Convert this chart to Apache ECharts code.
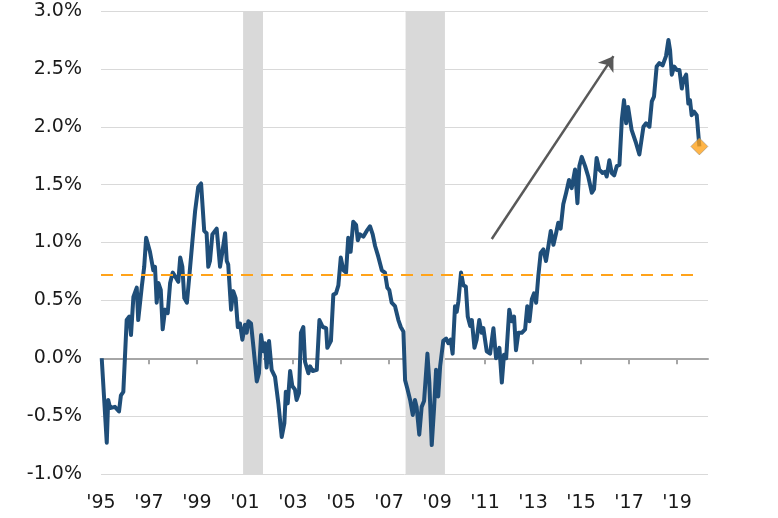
<!DOCTYPE html>
<html>
<head>
<meta charset="utf-8">
<script src="https://cdn.jsdelivr.net/npm/echarts@6/dist/echarts.min.js"></script>
<style>
  html, body { margin: 0; padding: 0; background: #fff; }
  #chart { width: 778px; height: 518px; }
</style>
</head>
<body>
<div id="chart"></div>
<script>
// decimal year of each reading and its value in %
const years = [
    1995.03, 1995.24, 1995.30, 1995.38, 1995.58, 1995.75, 1995.83, 1995.93, 1996.07, 1996.18,
    1996.25, 1996.35, 1996.49, 1996.55, 1996.70, 1996.80, 1996.88, 1997.04, 1997.18, 1997.25,
    1997.32, 1997.39, 1997.49, 1997.57, 1997.67, 1997.78, 1997.88, 1997.99, 1998.08, 1998.22,
    1998.30, 1998.39, 1998.47, 1998.58, 1998.68, 1998.80, 1998.92, 1998.99, 1999.05, 1999.17,
    1999.30, 1999.40, 1999.47, 1999.54, 1999.64, 1999.82, 1999.96, 2000.05, 2000.17, 2000.24,
    2000.30, 2000.42, 2000.51, 2000.61, 2000.70, 2000.79, 2000.89, 2001.00, 2001.07, 2001.14,
    2001.25, 2001.35, 2001.49, 2001.58, 2001.67, 2001.76, 2001.83, 2001.90, 2002.00, 2002.11,
    2002.25, 2002.39, 2002.53, 2002.64, 2002.70, 2002.78, 2002.88, 2002.97, 2003.08, 2003.15,
    2003.25, 2003.33, 2003.43, 2003.50, 2003.64, 2003.71, 2003.82, 2003.99, 2004.10, 2004.24,
    2004.38, 2004.43, 2004.58, 2004.68, 2004.79, 2004.89, 2004.99, 2005.10, 2005.21, 2005.30,
    2005.40, 2005.51, 2005.63, 2005.70, 2005.79, 2005.93, 2006.07, 2006.21, 2006.32, 2006.42,
    2006.55, 2006.70, 2006.83, 2006.93, 2007.01, 2007.11, 2007.25, 2007.39, 2007.49, 2007.60,
    2007.67, 2007.76, 2007.88, 2007.99, 2008.08, 2008.15, 2008.26, 2008.36, 2008.46, 2008.60,
    2008.68, 2008.78, 2008.88, 2008.96, 2009.05, 2009.13, 2009.26, 2009.38, 2009.47, 2009.57,
    2009.65, 2009.75, 2009.82, 2009.89, 2010.00, 2010.10, 2010.20, 2010.28, 2010.38, 2010.45,
    2010.56, 2010.65, 2010.76, 2010.86, 2010.93, 2011.07, 2011.21, 2011.35, 2011.46, 2011.60,
    2011.70, 2011.79, 2011.88, 2012.01, 2012.11, 2012.21, 2012.29, 2012.39, 2012.53, 2012.67,
    2012.76, 2012.85, 2012.95, 2013.04, 2013.13, 2013.22, 2013.32, 2013.43, 2013.54, 2013.64,
    2013.74, 2013.85, 2013.96, 2014.05, 2014.15, 2014.26, 2014.38, 2014.50, 2014.61, 2014.75,
    2014.85, 2014.93, 2015.03, 2015.17, 2015.30, 2015.45, 2015.54, 2015.65, 2015.76, 2015.90,
    2016.00, 2016.07, 2016.18, 2016.28, 2016.38, 2016.49, 2016.60, 2016.70, 2016.79, 2016.88,
    2016.96, 2017.11, 2017.29, 2017.43, 2017.50, 2017.60, 2017.71, 2017.85, 2017.95, 2018.04,
    2018.15, 2018.26, 2018.40, 2018.54, 2018.64, 2018.71, 2018.78, 2018.88, 2018.99, 2019.10,
    2019.20, 2019.26, 2019.38, 2019.47, 2019.54, 2019.61, 2019.71, 2019.82, 2019.93
];
const values = [
    0.00, -0.73, -0.36, -0.43, -0.42, -0.46, -0.32, -0.29, 0.33, 0.36,
    0.20, 0.53, 0.61, 0.33, 0.62, 0.79, 1.04, 0.92, 0.76, 0.79,
    0.48, 0.65, 0.59, 0.25, 0.42, 0.39, 0.65, 0.74, 0.71, 0.66,
    0.87, 0.79, 0.52, 0.48, 0.71, 0.99, 1.27, 1.27, 1.48, 1.51,
    1.10, 1.08, 0.79, 0.84, 1.07, 1.12, 0.79, 0.91, 1.08, 0.84,
    0.81, 0.42, 0.58, 0.52, 0.27, 0.30, 0.16, 0.29, 0.22, 0.32,
    0.30, 0.10, -0.20, -0.13, 0.20, 0.06, 0.13, -0.08, 0.15, -0.10,
    -0.16, -0.39, -0.68, -0.56, -0.29, -0.39, -0.11, -0.24, -0.27, -0.36,
    -0.30, 0.22, 0.27, -0.03, -0.13, -0.07, -0.11, -0.10, 0.33, 0.27,
    0.26, 0.09, 0.15, 0.55, 0.56, 0.63, 0.87, 0.76, 0.74, 1.04,
    0.92, 1.18, 1.15, 1.02, 1.07, 1.05, 1.10, 1.14, 1.07, 0.97,
    0.88, 0.76, 0.74, 0.61, 0.59, 0.48, 0.45, 0.33, 0.27, 0.23,
    -0.19, -0.26, -0.36, -0.49, -0.36, -0.42, -0.66, -0.42, -0.37, 0.04,
    -0.21, -0.75, -0.42, -0.10, -0.33, -0.07, 0.15, 0.17, 0.13, 0.16,
    0.04, 0.45, 0.40, 0.49, 0.74, 0.63, 0.62, 0.36, 0.28, 0.33,
    0.09, 0.16, 0.33, 0.22, 0.26, 0.06, 0.04, 0.26, 0.00, 0.09,
    -0.21, 0.03, 0.00, 0.42, 0.32, 0.36, 0.07, 0.22, 0.22, 0.25,
    0.45, 0.32, 0.51, 0.56, 0.48, 0.71, 0.91, 0.94, 0.84, 0.97,
    1.10, 0.98, 1.08, 1.17, 1.12, 1.33, 1.43, 1.54, 1.47, 1.63,
    1.34, 1.66, 1.74, 1.66, 1.57, 1.43, 1.46, 1.73, 1.63, 1.60,
    1.61, 1.57, 1.71, 1.60, 1.58, 1.66, 1.67, 2.06, 2.23, 2.03,
    2.17, 1.97, 1.86, 1.76, 1.76, 2.00, 2.03, 2.00, 2.22, 2.26,
    2.52, 2.55, 2.53, 2.61, 2.75, 2.66, 2.45, 2.52, 2.49, 2.49,
    2.33, 2.40, 2.45, 2.20, 2.23, 2.10, 2.13, 2.10, 1.83
];
const tickYears = [1997, 1999, 2001, 2003, 2005, 2007, 2009, 2011, 2013, 2015, 2017, 2019];
const labelYears = [1995, 1997, 1999, 2001, 2003, 2005, 2007, 2009, 2011, 2013, 2015, 2017, 2019];
const recessions = [[2000.92, 2001.75], [2007.69, 2009.33]];
const average = 0.72;
const averageSpan = [1995, 2019.8];
const arrowFrom = [2011.28, 1.03];
const arrowTo = [2016.35, 2.61];

const font = 'DejaVu Sans';
const points = years.map((y, i) => [y, values[i]]);
const last = points[points.length - 1];

const chart = echarts.init(document.getElementById('chart'));
chart.setOption({
    animation: false,
    grid: { left: 101, right: 70, top: 11, bottom: 44 },
    xAxis: [
        {
            type: 'value',
            min: 1995,
            max: 2020.29,
            axisLine: { onZero: true, lineStyle: { color: '#A6A6A6', width: 2 } },
            axisTick: { show: true, length: 6, customValues: tickYears, lineStyle: { color: '#A6A6A6', width: 2 } },
            axisLabel: { show: false },
            splitLine: { show: false },
        },
        {
            type: 'value',
            position: 'bottom',
            min: 1995,
            max: 2020.29,
            axisLine: { show: false },
            axisTick: { show: false },
            axisLabel: {
                customValues: labelYears,
                margin: 20,
                fontFamily: font,
                fontSize: 19,
                color: '#1a1a1a',
                formatter: (v) => "'" + String(Math.round(v)).slice(2),
            },
            splitLine: { show: false },
        },
    ],
    yAxis: {
        type: 'value',
        min: -1,
        max: 3,
        interval: 0.5,
        axisLine: { show: false },
        axisTick: { show: false },
        axisLabel: {
            margin: 19,
            fontFamily: font,
            fontSize: 19,
            color: '#1a1a1a',
            formatter: (v) => v.toFixed(1) + '%',
        },
        splitLine: { lineStyle: { color: '#D9D9D9', width: 1 } },
    },
    series: [
        {
            type: 'line',
            data: [],
            z: 1,
            markArea: {
                silent: true,
                itemStyle: { color: '#D9D9D9' },
                data: recessions.map(([a, b]) => [{ xAxis: a }, { xAxis: b }]),
            },
        },
        {
            type: 'line',
            data: [],
            z: 2,
            markLine: {
                silent: true,
                symbol: 'none',
                label: { show: false },
                lineStyle: { color: '#FFA31A', width: 2, type: [12, 8] },
                data: [[{ coord: [averageSpan[0], average] }, { coord: [averageSpan[1], average] }]],
            },
        },
        {
            type: 'line',
            data: [],
            z: 2,
            markLine: {
                silent: true,
                symbol: ['none', 'arrow'],
                symbolSize: 14,
                label: { show: false },
                lineStyle: { color: '#595959', width: 2.5, type: 'solid' },
                data: [[{ coord: arrowFrom }, { coord: arrowTo }]],
            },
        },
        {
            type: 'line',
            data: points,
            showSymbol: false,
            z: 3,
            lineStyle: { color: '#1F4E79', width: 4, join: 'round' },
        },
        {
            type: 'scatter',
            data: [last],
            z: 4,
            symbol: 'diamond',
            symbolSize: 17,
            itemStyle: { color: '#FFA31A', borderColor: '#7F7F7F', borderWidth: 0.6 },
        },
    ],
});
</script>
</body>
</html>
